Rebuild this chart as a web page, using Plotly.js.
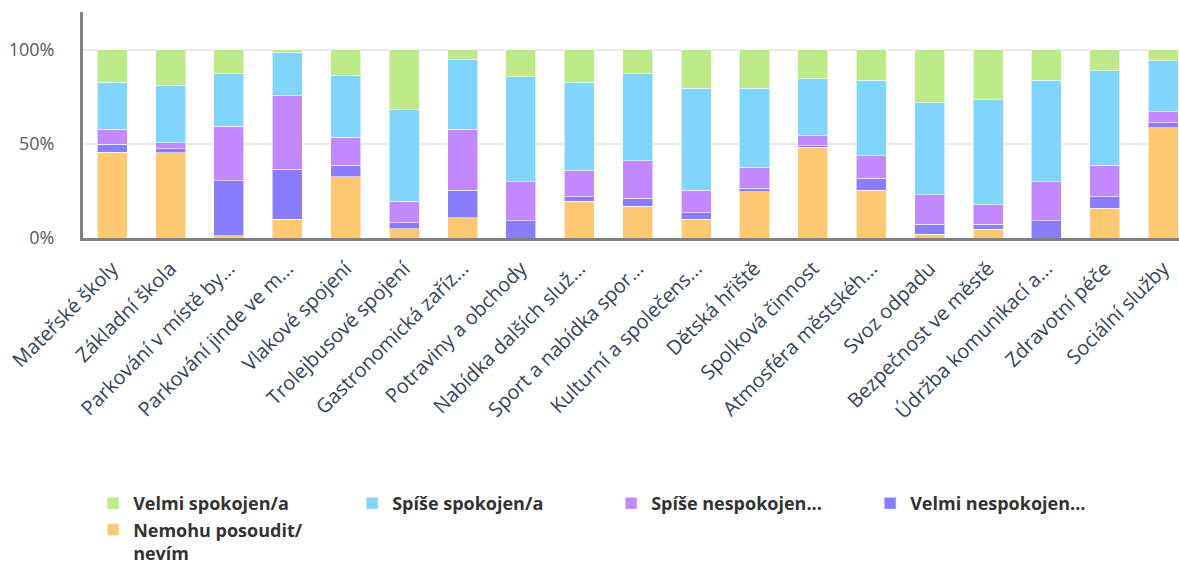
<!DOCTYPE html>
<html>
<head>
<meta charset="utf-8">
<script src="https://cdn.plot.ly/plotly-3.0.1.min.js"></script>
<style>
html,body{margin:0;padding:0;background:#fff;overflow:hidden;}
#chart{width:1179px;height:562px;}
</style>
</head>
<body>
<div id="chart"></div>
<script>
const categories = [
  "Mateřské školy",
  "Základní škola",
  "Parkování v místě by...",
  "Parkování jinde ve m...",
  "Vlakové spojení",
  "Trolejbusové spojení",
  "Gastronomická zaříz...",
  "Potraviny a obchody",
  "Nabídka dalších služ...",
  "Sport a nabídka spor...",
  "Kulturní a společens...",
  "Dětská hřiště",
  "Spolková činnost",
  "Atmosféra městskéh...",
  "Svoz odpadu",
  "Bezpečnost ve městě",
  "Údržba komunikací a...",
  "Zdravotní péče",
  "Sociální služby"
];

const seriesNames = [
  "Nemohu posoudit/<br>nevím",
  "Velmi nespokojen...",
  "Spíše nespokojen...",
  "Spíše spokojen/a",
  "Velmi spokojen/a"
];

const nemohuPosoudit   = [45.5, 45.3, 1.2, 9.9, 32.5, 4.8, 10.7, 0.0, 19.4, 16.9, 9.9, 24.5, 48.1, 25.4, 2.0, 4.6, 0.0, 15.8, 58.6];
const velmiNespokojen  = [4.3, 2.0, 29.1, 26.6, 6.0, 3.4, 14.7, 9.1, 2.5, 4.3, 3.4, 1.8, 0.9, 6.2, 5.2, 2.7, 9.1, 6.0, 2.5];
const spiseNespokojen  = [8.0, 3.4, 29.1, 39.1, 14.9, 11.2, 32.3, 20.8, 14.0, 19.9, 12.1, 11.4, 5.2, 12.1, 15.8, 10.3, 20.8, 16.7, 6.0];
const spiseSpokojen    = [25.0, 30.4, 27.7, 22.9, 32.9, 48.7, 37.3, 55.6, 46.9, 46.2, 54.0, 41.7, 30.4, 40.0, 48.7, 55.8, 53.8, 50.3, 27.0];
const velmiSpokojen    = [17.2, 18.9, 12.9, 1.5, 13.7, 31.9, 5.0, 14.5, 17.2, 12.7, 20.6, 20.6, 15.4, 16.3, 28.3, 26.6, 16.3, 11.2, 5.9];

const yTickVals = [0, 50, 100];
const yTickText = ["0%", "50%", "100%"];

const seriesValues = [nemohuPosoudit, velmiNespokojen, spiseNespokojen, spiseSpokojen, velmiSpokojen];
const seriesColors = ["#fec771", "#897cfe", "#c289fe", "#80d5fe", "#bde987"];

const traces = seriesValues.map((vals, i) => ({
  type: "bar",
  name: seriesNames[i],
  x: categories.map((c, k) => k),
  y: vals,
  marker: { color: seriesColors[i], line: { color: "rgba(255,255,255,0.55)", width: 1 } },
  hoverinfo: "skip"
}));

const layout = {
  width: 1179,
  height: 562,
  margin: { l: 83, r: 0, t: 12, b: 324 },
  barmode: "stack",
  bargap: 0.486,
  paper_bgcolor: "#fff",
  plot_bgcolor: "#fff",
  font: { family: "Open Sans, sans-serif" },
  xaxis: {
    range: [-0.5, 18.27],
    autorange: false,
    tickmode: "array",
    tickvals: categories.map((c, k) => k),
    ticktext: categories,
    tickangle: -45,
    showgrid: false,
    zeroline: false,
    showline: true,
    linecolor: "#808080",
    linewidth: 3,
    ticks: "",
    ticklabelstandoff: 8,
    tickfont: { size: 20, color: "#36465a", family: "Open Sans, sans-serif" },
    fixedrange: true
  },
  yaxis: {
    range: [0, 120],
    autorange: false,
    tickmode: "array",
    tickvals: yTickVals,
    ticktext: yTickText,
    showgrid: true,
    gridcolor: "#e9e9e9",
    gridwidth: 2,
    zeroline: false,
    showline: true,
    linecolor: "#808080",
    linewidth: 3,
    ticks: "",
    ticklabelstandoff: 22,
    tickfont: { size: 18, color: "#555a60", family: "Open Sans, sans-serif" },
    fixedrange: true
  },
  showlegend: true,
  legend: {
    orientation: "h",
    traceorder: "reversed",
    xref: "container",
    yref: "container",
    x: 0.079,
    xanchor: "left",
    y: 0.137,
    yanchor: "top",
    valign: "top",
    entrywidth: 214,
    entrywidthmode: "pixels",
    font: { size: 18, color: "#333", family: "Open Sans, sans-serif", weight: 700 },
    bgcolor: "rgba(0,0,0,0)"
  }
};

Plotly.newPlot("chart", traces, layout, { displayModeBar: false, staticPlot: true });
</script>
</body>
</html>
